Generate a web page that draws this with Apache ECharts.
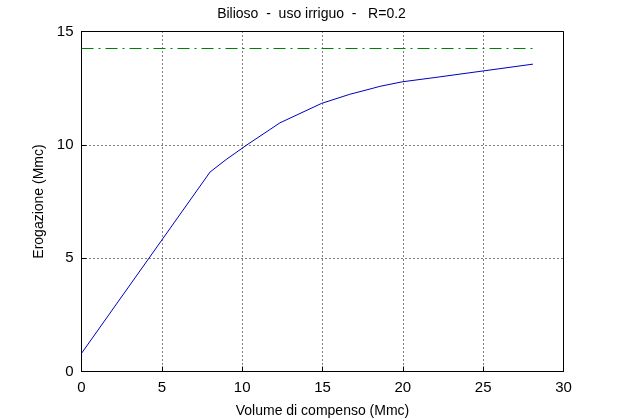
<!DOCTYPE html>
<html><head><meta charset="utf-8">
<script src="https://cdn.jsdelivr.net/npm/echarts@6/dist/echarts.min.js"></script>
<style>html,body{margin:0;padding:0;background:#fff}#c{width:623px;height:419px}</style>
</head><body><div id="c"></div>
<script>
var titleText = 'Bilioso  -  uso irriguo  -   R=0.2';
var xName = 'Volume di compenso (Mmc)';
var yName = 'Erogazione (Mmc)';
var curveX = [0, 2.4, 5, 8, 9, 10.3, 12.35, 14.95, 16.7, 18.16, 18.57, 19.96, 22, 25, 28.1];
var curveY = [0.8, 3.2, 5.8, 8.8, 9.35, 10, 10.97, 11.83, 12.23, 12.5, 12.58, 12.78, 12.97, 13.26, 13.56];
var limitX = [0, 28.1];
var limitY = [14.25, 14.25];

var font = 'Liberation Sans, Arial, Helvetica, sans-serif';
var chart = echarts.init(document.getElementById('c'), null, {renderer: 'canvas'});
chart.setOption({
  animation: false,
  backgroundColor: '#fff',
  title: {text: titleText, left: 'center', top: 2,
    textStyle: {fontFamily: font, fontSize: 14, fontWeight: 'normal', color: '#000'}},
  grid: {left: 81.5, right: 59.5, top: 31.5, bottom: 47.5, show: true, borderColor: '#000', borderWidth: 1, backgroundColor: '#fff', containLabel: false, outerBoundsMode: 'none'},
  xAxis: {type: 'value', min: 0, max: 30, interval: 5,
    name: xName, nameLocation: 'middle', nameGap: 33,
    nameTextStyle: {fontFamily: font, fontSize: 14, color: '#000'},
    axisLine: {show: true, lineStyle: {color: '#000'}},
    axisTick: {show: true, inside: true, length: 5, lineStyle: {color: '#000'}},
    axisLabel: {fontFamily: font, fontSize: 15, color: '#000', margin: 9},
    splitLine: {show: true, lineStyle: {type: [1, 3], color: '#000'}}},
  yAxis: {type: 'value', min: 0, max: 15, interval: 5,
    name: yName, nameLocation: 'middle', nameGap: 35,
    nameTextStyle: {fontFamily: font, fontSize: 14, color: '#000'},
    axisLine: {show: true, lineStyle: {color: '#000'}},
    axisTick: {show: true, inside: true, length: 5, lineStyle: {color: '#000'}},
    axisLabel: {fontFamily: font, fontSize: 15, color: '#000', margin: 8},
    splitLine: {show: true, lineStyle: {type: [1, 3], color: '#000'}}},
  series: [
    {type: 'line', data: curveX.map(function(x, i){return [x, curveY[i]];}),
      showSymbol: false, lineStyle: {color: '#0000c0', width: 1}},
    {type: 'line', data: limitX.map(function(x, i){return [x, limitY[i]];}),
      showSymbol: false, lineStyle: {color: '#008000', width: 1, type: [12, 5, 2, 5]}}
  ]
});
</script></body></html>
